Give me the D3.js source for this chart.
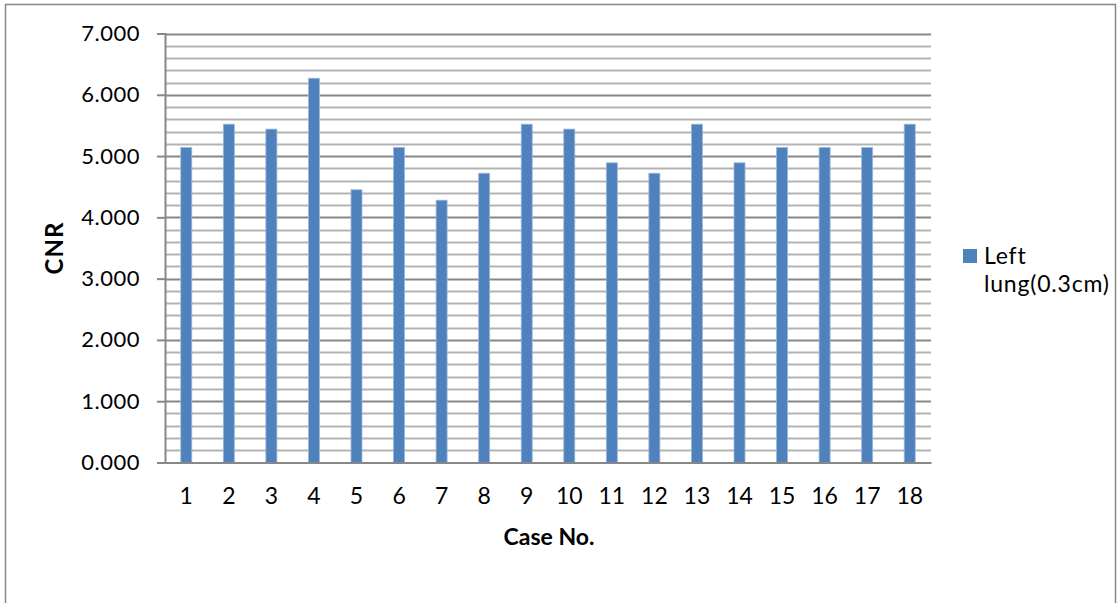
<!DOCTYPE html>
<html>
<head>
<meta charset="utf-8">
<script src="https://cdn.jsdelivr.net/npm/d3@7"></script>
<style>
  html, body { margin: 0; padding: 0; background: #fff; }
  svg { display: block; }
  text { font-family: Lato, "Open Sans", sans-serif; fill: #000; }
</style>
</head>
<body>
<svg id="chart" width="1120" height="603"></svg>
<script>
// CNR per case, left lung (0.3 cm)
const cases = ["1","2","3","4","5","6","7","8","9","10","11","12","13","14","15","16","17","18"];
const cnrValues = [5.14, 5.52, 5.44, 6.27, 4.45, 5.14, 4.28, 4.72, 5.52, 5.44, 4.89, 4.72, 5.52, 4.89, 5.14, 5.14, 5.14, 5.52];
const majorTicks = [0, 1, 2, 3, 4, 5, 6, 7];
const minorTicks = d3.range(0, 7.0001, 0.2);
const seriesName = ["Left", "lung(0.3cm)"];

const svg = d3.select("#chart");
const barColor = "#4f81bd";

// outer chart frame
svg.append("rect")
  .attr("x", 5.5).attr("y", 4.5)
  .attr("width", 1110).attr("height", 620)
  .attr("fill", "none").attr("stroke", "#868686").attr("stroke-width", 1.5);

const plot = { left: 165, right: 931, top: 33.5, bottom: 462.5 };

const x = d3.scaleBand().domain(cases).range([plot.left, plot.right]).paddingInner(0).paddingOuter(0);
const y = d3.scaleLinear().domain([0, 7]).range([plot.bottom, plot.top]);

// minor gridlines
svg.append("g").selectAll("line")
  .data(minorTicks.filter(v => Math.abs(v - Math.round(v)) > 1e-6))
  .join("line")
  .attr("x1", plot.left).attr("x2", plot.right)
  .attr("y1", d => Math.round(y(d)) + 0.5).attr("y2", d => Math.round(y(d)) + 0.5)
  .attr("stroke", "#b3b3b3").attr("stroke-width", 2);

// major gridlines
svg.append("g").selectAll("line")
  .data(majorTicks.filter(v => v > 0))
  .join("line")
  .attr("x1", plot.left).attr("x2", plot.right)
  .attr("y1", d => Math.round(y(d)) + 0.5).attr("y2", d => Math.round(y(d)) + 0.5)
  .attr("stroke", "#878787").attr("stroke-width", 2);

// bars
const bw = 11;
svg.append("g").selectAll("rect")
  .data(cnrValues)
  .join("rect")
  .attr("x", (d, i) => x(cases[i]) + x.bandwidth() / 2 - bw / 2)
  .attr("y", d => y(d))
  .attr("width", bw)
  .attr("height", d => y(0) - y(d))
  .attr("fill", barColor)
  .attr("stroke", "#9bb7dc").attr("stroke-width", 0.8);

// y axis
const yAxis = d3.axisLeft(y).tickValues(majorTicks).tickSize(8).tickPadding(17)
  .tickFormat(d3.format(".3f"));
const gy = svg.append("g").attr("transform", `translate(${plot.left},0)`).call(yAxis);
gy.select(".domain").attr("stroke", "#878787").attr("stroke-width", 2);
gy.selectAll(".tick line").attr("stroke", "#878787").attr("stroke-width", 2);
gy.selectAll(".tick text").style("font-size", "22px").style("font-family", "Lato, sans-serif")
  .style("letter-spacing", "0.5px").attr("fill", "#000");

// x axis
const xAxis = d3.axisBottom(x).tickSize(0).tickPadding(25);
const gx = svg.append("g").attr("transform", `translate(0,${plot.bottom})`).call(xAxis);
gx.select(".domain").attr("stroke", "#878787").attr("stroke-width", 2);
gx.selectAll(".tick text").style("font-size", "23px").style("font-family", "Lato, sans-serif").attr("fill", "#000");

// axis titles
svg.append("text")
  .attr("x", 549).attr("y", 545)
  .attr("text-anchor", "middle")
  .style("font-size", "23px").style("font-weight", "bold")
  .text("Case No.");

svg.append("text")
  .attr("transform", "translate(63,248) rotate(-90)")
  .attr("text-anchor", "middle")
  .style("font-size", "24px").style("font-weight", "bold")
  .style("letter-spacing", "1px")
  .text("CNR");

// legend
const lg = svg.append("g");
lg.append("rect").attr("x", 963).attr("y", 249).attr("width", 14).attr("height", 14).attr("fill", barColor);
lg.append("text").attr("x", 984).attr("y", 264).style("font-size", "23px").style("letter-spacing", "0.8px").text(seriesName[0]);
lg.append("text").attr("x", 984).attr("y", 292).style("font-size", "23px").style("letter-spacing", "0.8px").text(seriesName[1]);
</script>
</body>
</html>
